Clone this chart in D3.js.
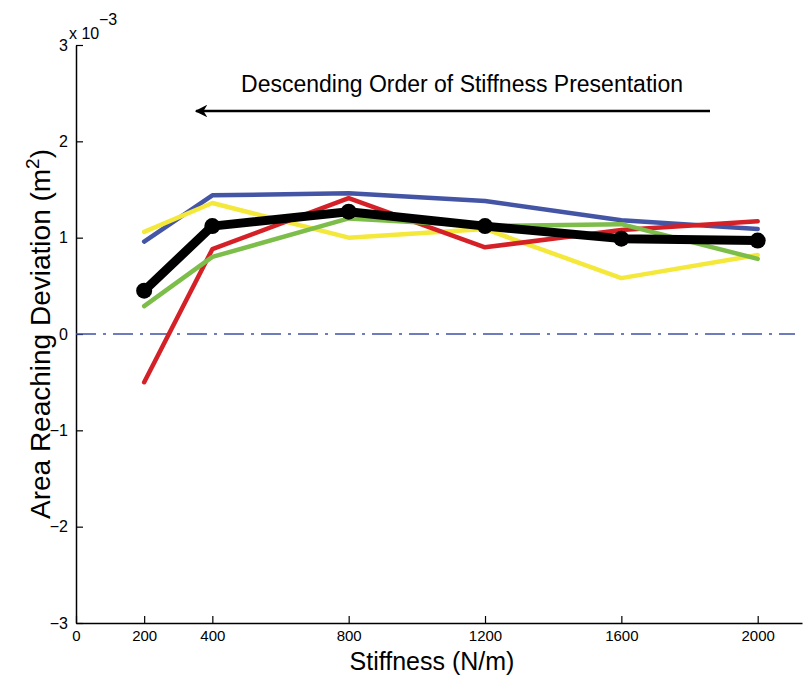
<!DOCTYPE html>
<html><head><meta charset="utf-8">
<script src="https://cdn.jsdelivr.net/npm/d3@7"></script>
<style>body{margin:0;background:#fff}svg{display:block;font-family:"Liberation Sans",Arial,Helvetica,sans-serif}</style>
</head><body>
<svg id="c" width="804" height="676"></svg>
<script>
const stiffness = [200, 400, 800, 1200, 1600, 2000];
const blueSeries   = [0.96, 1.44, 1.46, 1.38, 1.18, 1.09];
const yellowSeries = [1.06, 1.36, 1.00, 1.09, 0.58, 0.82];
const redSeries    = [-0.50, 0.88, 1.41, 0.90, 1.08, 1.17];
const greenSeries  = [0.29, 0.80, 1.20, 1.12, 1.14, 0.78];
const meanSeries   = [0.45, 1.12, 1.27, 1.12, 0.99, 0.97];
const xTicks = [0, 200, 400, 800, 1200, 1600, 2000];
const yTicks = [-3, -2, -1, 0, 1, 2, 3];

const FONT = '"Liberation Sans",Arial,Helvetica,sans-serif';
const svg = d3.select("#c");
const x = d3.scaleLinear().domain([0, 2130]).range([76, 802]);
const y = d3.scaleLinear().domain([-3, 3]).range([623, 45]);

// axes
const xAxis = d3.axisBottom(x).tickValues(xTicks).tickSizeInner(-7).tickSizeOuter(0).tickPadding(7).tickFormat(d3.format("d"));
const gx = svg.append("g").attr("transform", `translate(0,${y(-3)})`).call(xAxis)
  .attr("font-family", FONT).attr("font-size", 15);
gx.select(".domain").attr("stroke", "#000").attr("stroke-width", 1.5);
gx.selectAll(".tick line").attr("stroke-width", 1.2);
gx.selectAll("text").attr("fill", "#000");

const yAxis = d3.axisLeft(y).tickValues(yTicks).tickSizeInner(-7).tickSizeOuter(0).tickPadding(8)
  .tickFormat(d => d < 0 ? "\u2212" + Math.abs(d) : d);
const gy = svg.append("g").attr("transform", `translate(${x(0)},0)`).call(yAxis)
  .attr("font-family", FONT).attr("font-size", 16);
gy.select(".domain").attr("stroke", "#000").attr("stroke-width", 1.5);
gy.selectAll(".tick line").attr("stroke-width", 1.2);
gy.selectAll("text").attr("fill", "#000");

// exponent
svg.append("text").attr("x", 69).attr("y", 39).attr("font-size", 16).attr("fill", "#000").text("x 10");
svg.append("text").attr("x", 99).attr("y", 25).attr("font-size", 16).attr("fill", "#000").text("\u22123");

// zero reference line
svg.append("line").attr("x1", x(0)).attr("x2", 795).attr("y1", y(0)).attr("y2", y(0))
  .attr("stroke", "#3f51a5").attr("stroke-width", 1.5).attr("stroke-dasharray", "20,7,3,7");

const line = d3.line().x((d, i) => x(stiffness[i])).y(d => y(d));
const series = [
  {v: blueSeries, c: "#4455a6"},
  {v: yellowSeries, c: "#f4e83a"},
  {v: redSeries, c: "#d42027"},
  {v: greenSeries, c: "#7dbd4a"}
];
series.forEach(s => {
  svg.append("path").datum(s.v).attr("d", line).attr("fill", "none")
    .attr("stroke", s.c).attr("stroke-width", 4.5).attr("stroke-linecap", "round").attr("stroke-linejoin", "round");
});
svg.append("path").datum(meanSeries).attr("d", line).attr("fill", "none")
  .attr("stroke", "#000").attr("stroke-width", 9).attr("stroke-linejoin", "round");
svg.selectAll("circle.m").data(meanSeries).enter().append("circle")
  .attr("cx", (d, i) => x(stiffness[i])).attr("cy", d => y(d)).attr("r", 8).attr("fill", "#000");

// arrow annotation
svg.append("defs").append("marker").attr("id", "ah").attr("viewBox", "0 0 10 10")
  .attr("refX", 9).attr("refY", 5).attr("markerWidth", 5).attr("markerHeight", 5).attr("orient", "auto")
  .append("path").attr("d", "M0,0 L10,5 L0,10 L3,5 Z").attr("fill", "#000");
svg.append("line").attr("x1", 710).attr("x2", 196).attr("y1", 111).attr("y2", 111)
  .attr("stroke", "#000").attr("stroke-width", 2.5).attr("marker-end", "url(#ah)");
svg.append("text").attr("x", 462).attr("y", 92).attr("text-anchor", "middle").attr("font-size", 23).attr("fill", "#000")
  .text("Descending Order of Stiffness Presentation");

// axis labels
svg.append("text").attr("x", 432).attr("y", 670).attr("text-anchor", "middle").attr("font-size", 25).attr("fill", "#000")
  .text("Stiffness (N/m)");
const yl = svg.append("text").attr("transform", `translate(50,${y(0)}) rotate(-90)`).attr("text-anchor", "middle")
  .attr("font-size", 28).attr("fill", "#000");
yl.append("tspan").text("Area Reaching Deviation (m");
yl.append("tspan").attr("dy", -11).attr("font-size", 19).text("2");
yl.append("tspan").attr("dy", 11).text(")");
</script>
</body></html>
